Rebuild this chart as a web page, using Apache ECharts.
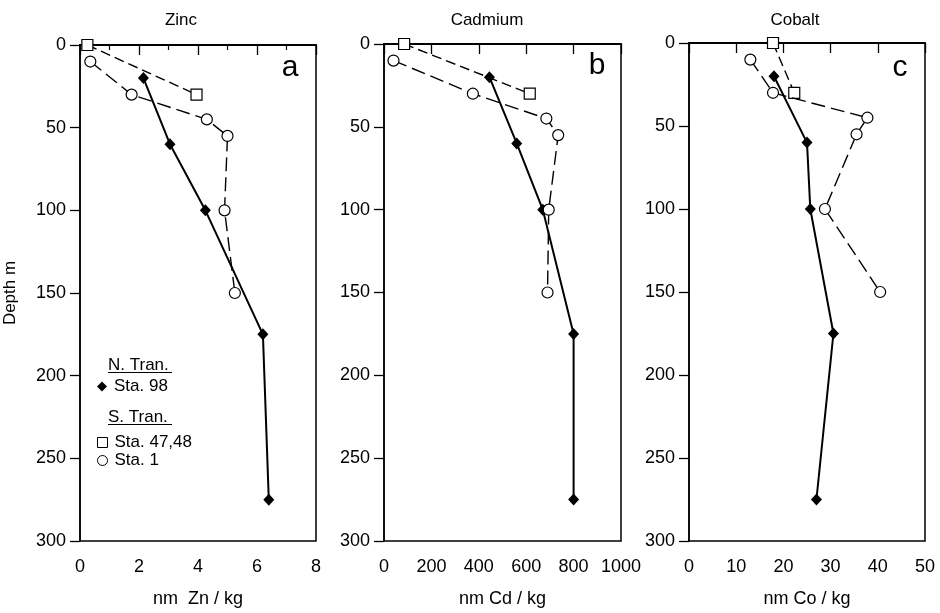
<!DOCTYPE html>
<html><head><meta charset="utf-8">
<script src="https://cdn.jsdelivr.net/npm/echarts@6/dist/echarts.min.js"></script>
<style>html,body{margin:0;padding:0;background:#fff}#c{width:940px;height:613px}</style>
</head><body><div id="c"></div>
<script>
// ---- data ----
const panelTitles = ['Zinc', 'Cadmium', 'Cobalt'];
const panelLetters = ['a', 'b', 'c'];
const xAxisNames = ['nm  Zn / kg', 'nm Cd / kg', 'nm Co / kg'];
const xMax = [8, 1000, 50];
const xInterval = [2, 200, 10];
const depthMax = 300;
const depthInterval = 50;

const depth98 = [20, 60, 100, 175, 275];
const depth47 = [0, 30];
const depth1 = [10, 30, 45, 55, 100, 150];

const zn98 = [2.15, 3.05, 4.25, 6.2, 6.4];
const zn47 = [0.25, 3.95];
const zn1 = [0.35, 1.75, 4.3, 5.0, 4.9, 5.25];

const cd98 = [445, 560, 670, 800, 800];
const cd47 = [85, 615];
const cd1 = [40, 375, 685, 735, 695, 690];

const co98 = [18, 25, 25.7, 30.6, 27];
const co47 = [17.8, 22.3];
const co1 = [13, 17.8, 37.8, 35.5, 28.8, 40.5];

const seriesNames = ['Sta. 98', 'Sta. 47,48', 'Sta. 1'];
const groupHeaders = ['N. Tran.', 'S. Tran.'];

// ---- layout ----
const FONT = 'Liberation Sans, Arial, Helvetica, sans-serif';
const grids = [
  {left: 80, top: 45, width: 236, height: 500},
  {left: 384, top: 44, width: 237, height: 500},
  {left: 689, top: 43, width: 236, height: 500}
];
const values98 = [zn98, cd98, co98];
const values47 = [zn47, cd47, co47];
const values1 = [zn1, cd1, co1];

function pairs(xs, ds) { return xs.map((v, i) => [v, ds[i]]); }

const xAxes = [], yAxes = [], series = [];
grids.forEach((g, i) => {
  xAxes.push({
    type: 'value', gridIndex: i, min: 0, max: xMax[i], interval: xInterval[i],
    position: 'bottom',
    name: xAxisNames[i], nameLocation: 'middle', nameGap: 49,
    nameTextStyle: {fontFamily: FONT, fontSize: 18, color: '#000'},
    axisLine: {show: true, lineStyle: {color: '#000', width: 2}},
    axisTick: {show: true, inside: false, length: 10, lineStyle: {color: '#000', width: 1.3}},
    minorTick: {show: i === 0, splitNumber: 2, length: 5, lineStyle: {color: '#000', width: 1.2}},
    axisLabel: {fontFamily: FONT, fontSize: 18, color: '#000', margin: 17, formatter: v => String(v)},
    splitLine: {show: false}, minorSplitLine: {show: false}
  });
  yAxes.push({
    type: 'value', gridIndex: i, min: 0, max: depthMax, interval: depthInterval, inverse: true,
    name: i === 0 ? 'Depth m' : '', nameLocation: 'middle', nameGap: 61, nameRotate: 90,
    nameTextStyle: {fontFamily: FONT, fontSize: 17, color: '#000'},
    axisLine: {show: true, lineStyle: {color: '#000', width: 1.5}},
    axisTick: {show: true, inside: false, length: 10, lineStyle: {color: '#000', width: 1.3}},
    axisLabel: {fontFamily: FONT, fontSize: 18, color: '#000', margin: 14, formatter: v => String(v)},
    splitLine: {show: false}
  });
  series.push({
    name: seriesNames[0], type: 'line', xAxisIndex: i, yAxisIndex: i,
    data: pairs(values98[i], depth98), clip: false, z: 2,
    symbol: 'diamond', symbolSize: [11, 12],
    itemStyle: {color: '#000', borderColor: '#000', borderWidth: 0},
    lineStyle: {color: '#000', width: 2}
  });
  series.push({
    name: seriesNames[1], type: 'line', xAxisIndex: i, yAxisIndex: i,
    data: pairs(values47[i], depth47), clip: false, z: 3,
    symbol: 'rect', symbolSize: 11, showAllSymbol: true,
    itemStyle: {color: '#fff', borderColor: '#000', borderWidth: 1.2},
    lineStyle: {color: '#000', width: 1.4, type: [10, 5]}
  });
  series.push({
    name: seriesNames[2], type: 'line', xAxisIndex: i, yAxisIndex: i,
    data: pairs(values1[i], depth1), clip: false, z: 4,
    symbol: 'circle', symbolSize: 11, showAllSymbol: true,
    itemStyle: {color: '#fff', borderColor: '#000', borderWidth: 1.2},
    lineStyle: {color: '#000', width: 1.4, type: [14, 6]}
  });
});

const titleCenters = [181, 487, 795];
const letterPos = [[290, 68], [597, 66], [900, 68]];
const graphics = [];
panelTitles.forEach((t, i) => {
  graphics.push({type: 'text', x: titleCenters[i], y: 20, z: 10,
    style: {text: t, fontFamily: FONT, fontSize: 17, fill: '#000', textAlign: 'center', textVerticalAlign: 'middle'}});
});
panelLetters.forEach((t, i) => {
  graphics.push({type: 'text', x: letterPos[i][0], y: letterPos[i][1], z: 10,
    style: {text: t, fontFamily: FONT, fontSize: 30, fill: '#000', textAlign: 'center', textVerticalAlign: 'middle'}});
});
// group headers (underlined)
const headerY = [365, 417];
groupHeaders.forEach((t, i) => {
  graphics.push({type: 'text', x: 108, y: headerY[i], z: 10,
    style: {text: t, fontFamily: FONT, fontSize: 17, fill: '#000', textVerticalAlign: 'middle'}});
  graphics.push({type: 'line', z: 10,
    shape: {x1: 108, y1: headerY[i] + 7.5, x2: 172, y2: headerY[i] + 7.5},
    style: {stroke: '#000', lineWidth: 1.2}});
});

const option = {
  animation: false,
  backgroundColor: '#fff',
  grid: grids.map(g => Object.assign({show: true, borderColor: '#000', borderWidth: 1.5, backgroundColor: 'transparent'}, g)),
  xAxis: xAxes,
  yAxis: yAxes,
  series: series,
  legend: [
    {
      orient: 'vertical', left: 92, top: 373, selectedMode: false,
      itemWidth: 10, itemHeight: 10, itemGap: 2,
      textStyle: {fontFamily: FONT, fontSize: 17, color: '#000', padding: [0, 0, 0, 2]},
      data: [{name: seriesNames[0], icon: 'diamond', itemStyle: {color: '#000', borderWidth: 0}}]
    },
    {
      orient: 'vertical', left: 92, top: 429, selectedMode: false,
      itemWidth: 10, itemHeight: 10, itemGap: 1,
      textStyle: {fontFamily: FONT, fontSize: 17, color: '#000', padding: [0, 0, 0, 2], lineHeight: 16},
      data: [
        {name: seriesNames[1], icon: 'rect', itemStyle: {color: '#fff', borderColor: '#000', borderWidth: 1}},
        {name: seriesNames[2], icon: 'circle', itemStyle: {color: '#fff', borderColor: '#000', borderWidth: 1}}
      ]
    }
  ],
  graphic: graphics
};
const chart = echarts.init(document.getElementById('c'), null, {renderer: 'canvas'});
chart.setOption(option);
</script>
</body></html>
